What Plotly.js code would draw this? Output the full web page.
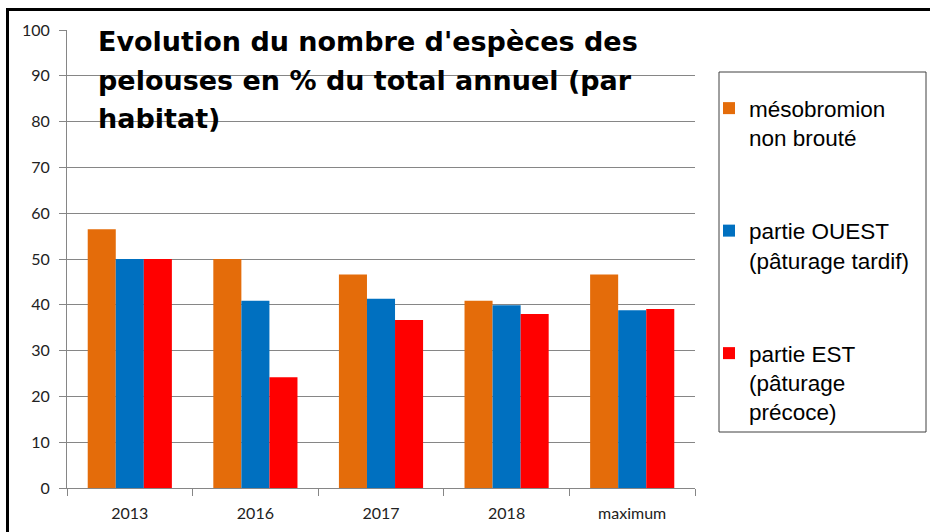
<!DOCTYPE html>
<html>
<head>
<meta charset="utf-8">
<script src="https://cdn.plot.ly/plotly-3.0.1.min.js"></script>
<style>html,body{margin:0;padding:0;background:#fff;}#chart{width:930px;height:532px;}</style>
</head>
<body>
<div id="chart"></div>
<script>
const categories = ["2013", "2016", "2017", "2018", "maximum"];
const seriesNames = ["mésobromion<br>non brouté", "partie OUEST<br>(pâturage tardif)", "partie EST<br>(pâturage<br>précoce)"];
const mesobromion = [56.5, 50.0, 46.6, 40.9, 46.6];
const partieOuest = [50.0, 40.9, 41.3, 39.9, 38.8];
const partieEst = [50.0, 24.2, 36.7, 38.0, 39.1];
const colors = ["#E46C0A", "#0070C0", "#FF0000"];
const titleLines = ["Evolution du nombre d'espèces des", "pelouses en % du total annuel (par", "habitat)"];

const W = 930, H = 532;
const M = {l: 67, r: 235, t: 30, b: 44};
const pw = W - M.l - M.r, ph = H - M.t - M.b;
const px = x => (x - M.l) / pw;
const py = y => 1 - (y - M.t) / ph;

const values = [mesobromion, partieOuest, partieEst];
const traces = values.map((v, i) => ({
  type: 'bar', x: categories, y: v, name: seriesNames[i],
  marker: {color: colors[i]}, legendgroup: 'g' + i, hoverinfo: 'x+y'
}));

const grid = '#868686';
const titleCenters = [42, 80, 118];
const annotations = titleLines.map((t, i) => ({
  text: '<b>' + t + '</b>', xref: 'paper', yref: 'paper', x: px(96), y: py(titleCenters[i]),
  xanchor: 'left', yanchor: 'middle', showarrow: false,
  font: {family: 'DejaVu Sans, sans-serif', size: 27, color: '#000'}
}));

const tickFont = {family: 'Lato, sans-serif', size: 16, color: '#222'};
const layout = {
  width: W, height: H, margin: M,
  paper_bgcolor: '#fff', plot_bgcolor: '#fff',
  font: {family: 'Lato, sans-serif', size: 16, color: '#222'},
  barmode: 'group', bargap: 0.33, bargroupgap: 0,
  xaxis: {type: 'category', showgrid: false, showline: true, linecolor: grid, linewidth: 1,
    ticks: 'outside', tickson: 'boundaries', ticklen: 7, tickcolor: grid,
    ticklabelstandoff: 11, tickfont: tickFont},
  yaxis: {range: [0, 100], dtick: 10, showgrid: true, gridcolor: grid, gridwidth: 1,
    showline: true, linecolor: grid, linewidth: 1, zeroline: false,
    ticks: 'outside', ticklen: 7, tickcolor: grid, ticklabelstandoff: 6,
    tickfont: tickFont},
  showlegend: true,
  legend: {x: px(709), xanchor: 'left', y: py(87), yanchor: 'top', valign: 'top',
    traceorder: 'grouped', tracegroupgap: 61, bgcolor: 'rgba(0,0,0,0)', borderwidth: 0,
    font: {family: 'Liberation Sans, Arial, sans-serif', size: 22.5, color: '#000'}},
  annotations: annotations,
  shapes: [
    {type: 'rect', xref: 'paper', yref: 'paper', x0: px(719), x1: px(926), y0: py(432), y1: py(72),
      line: {color: '#404040', width: 1}, fillcolor: 'rgba(0,0,0,0)'},
    {type: 'rect', xref: 'paper', yref: 'paper', x0: px(7.5), x1: px(945), y0: py(550), y1: py(9.5),
      line: {color: '#000', width: 3}, fillcolor: 'rgba(0,0,0,0)'}
  ]
};

Plotly.newPlot('chart', traces, layout, {displayModeBar: false, responsive: false});
</script>
</body>
</html>
